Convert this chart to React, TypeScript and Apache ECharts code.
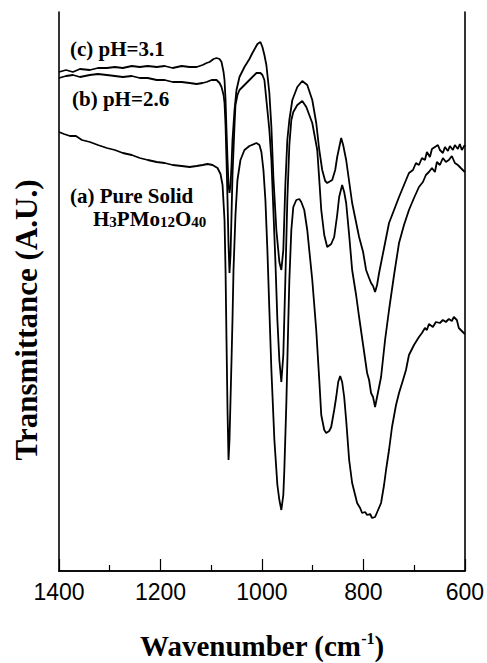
import React, { useEffect, useRef } from "react";
import * as echarts from "echarts";

// Wavenumber (cm-1) and transmittance (arbitrary units)
const curveC: [number, number][] = [
  [1400, 499], [1386.2, 501], [1372.5, 499], [1358.7, 502], [1339.1, 501], [1323.3, 503],
  [1305.7, 503], [1289.9, 504], [1274.2, 503], [1256.5, 505], [1240.8, 504], [1225.1, 505],
  [1207.4, 504], [1191.6, 505], [1175.9, 503], [1158.2, 505], [1142.5, 504], [1128.7, 504],
  [1116.9, 506], [1109.1, 508], [1103.2, 509], [1095.3, 512], [1089.4, 513], [1083.5, 512],
  [1079.6, 509], [1075.6, 499], [1073.7, 491], [1071.7, 471], [1069.8, 441], [1067.8, 411],
  [1065.8, 386], [1063.9, 378], [1061.9, 386], [1059.9, 406], [1058.0, 431], [1054.0, 461],
  [1050.1, 481], [1044.2, 494], [1034.4, 504], [1024.6, 512], [1018.7, 518], [1008.8, 527],
  [1002.9, 529], [999.0, 524], [995.1, 516], [991.2, 506], [985.3, 478], [981.3, 444],
  [977.4, 394], [971.5, 341], [965.6, 309], [961.7, 301], [957.8, 321], [953.8, 386],
  [949.9, 431], [945.9, 451], [940.0, 471], [930.2, 484], [920.4, 490], [910.6, 486],
  [900.7, 471], [892.9, 448], [886.9, 421], [881.1, 401], [875.2, 390], [871.3, 388],
  [861.4, 391], [855.5, 401], [851.6, 414], [843.7, 433], [839.8, 426], [833.9, 411],
  [822.1, 368], [808.4, 334], [800.5, 319], [794.6, 301], [788.7, 293], [784.8, 288],
  [780.9, 285], [776.9, 279], [773.0, 286], [769.0, 298], [759.2, 323], [749.4, 348],
  [739.5, 361], [729.7, 374], [719.9, 386], [710.1, 398], [702.2, 401], [696.3, 408],
  [690.4, 406], [684.5, 413], [678.6, 411], [674.7, 419], [668.8, 414], [664.8, 422],
  [658.9, 424], [653.0, 426], [649.1, 421], [643.2, 418], [639.2, 424], [633.3, 420],
  [629.4, 425], [623.5, 421], [619.6, 426], [613.7, 422], [609.8, 427], [605.9, 421],
  [600, 426],
];

const curveB: [number, number][] = [
  [1400, 493], [1386.2, 495], [1372.5, 496], [1358.7, 494], [1339.1, 496], [1323.3, 497],
  [1305.7, 496], [1289.9, 495], [1274.2, 494], [1256.5, 495], [1240.8, 493], [1225.1, 493],
  [1207.4, 491], [1191.6, 491], [1175.9, 489], [1158.2, 489], [1142.5, 488], [1128.7, 487],
  [1116.9, 488], [1109.1, 489], [1099.3, 491], [1089.4, 491], [1083.5, 488], [1079.6, 484],
  [1075.6, 476], [1073.7, 468], [1071.7, 446], [1069.8, 411], [1067.8, 371], [1065.8, 326],
  [1063.9, 298], [1061.9, 316], [1059.9, 356], [1058.0, 396], [1054.0, 446], [1052.1, 466],
  [1048.2, 476], [1044.2, 481], [1034.4, 486], [1024.6, 491], [1010.8, 498], [1002.9, 498],
  [999.0, 496], [995.1, 491], [989.2, 461], [985.3, 441], [981.3, 411], [977.4, 361],
  [973.5, 311], [969.5, 251], [965.6, 211], [961.7, 189], [957.8, 216], [953.8, 291],
  [949.9, 371], [945.9, 426], [942.0, 451], [938.1, 459], [930.2, 466], [920.4, 470],
  [912.5, 464], [900.7, 448], [890.9, 421], [886.9, 391], [883.0, 361], [877.1, 336],
  [871.3, 324], [863.4, 327], [857.5, 334], [851.6, 356], [847.7, 374], [841.8, 386],
  [837.8, 379], [833.9, 368], [828.0, 336], [822.1, 301], [814.3, 276], [808.4, 254],
  [800.5, 226], [792.6, 198], [788.7, 191], [784.8, 178], [780.9, 174], [776.9, 164],
  [771.0, 179], [765.1, 194], [757.2, 231], [749.4, 261], [739.5, 296], [729.7, 328],
  [719.9, 346], [710.1, 361], [700.2, 373], [690.4, 384], [682.6, 389], [676.7, 396],
  [670.8, 399], [664.8, 403], [658.9, 399], [655.0, 409], [649.1, 406], [643.2, 413],
  [637.3, 409], [631.5, 411], [625.6, 415], [619.6, 408], [613.7, 406], [607.9, 403],
  [600, 399],
];

const curveA: [number, number][] = [
  [1400, 439], [1390.2, 437], [1378.4, 435], [1366.6, 435], [1354.8, 431], [1339.1, 429],
  [1323.3, 426], [1305.7, 423], [1289.9, 421], [1274.2, 418], [1256.5, 416], [1240.8, 413],
  [1225.1, 411], [1207.4, 409], [1191.6, 408], [1175.9, 406], [1158.2, 405], [1142.5, 404],
  [1128.7, 405], [1116.9, 406], [1107.1, 407], [1097.3, 406], [1087.5, 403], [1081.6, 397],
  [1077.6, 386], [1073.7, 351], [1071.7, 301], [1069.8, 231], [1067.8, 161], [1065.8, 111],
  [1063.9, 131], [1061.9, 171], [1059.9, 211], [1058.0, 251], [1056.0, 301], [1052.1, 356],
  [1048.2, 391], [1042.3, 411], [1034.4, 421], [1024.6, 425], [1010.8, 428], [1004.9, 426],
  [1001.0, 419], [997.0, 401], [993.1, 371], [989.2, 321], [985.3, 261], [981.3, 201],
  [975.4, 131], [969.5, 86], [965.6, 71], [961.7, 61], [957.8, 76], [955.8, 101],
  [951.8, 168], [947.9, 251], [945.9, 291], [942.0, 341], [938.1, 364], [932.2, 371],
  [926.3, 372], [922.4, 369], [916.5, 361], [910.6, 341], [900.7, 291], [892.9, 241],
  [886.9, 191], [883.0, 156], [877.1, 141], [873.2, 138], [867.3, 140], [863.4, 144],
  [857.5, 161], [853.5, 174], [849.6, 189], [845.7, 195], [841.8, 189], [837.8, 174],
  [833.9, 151], [828.0, 111], [822.1, 88], [816.2, 76], [812.3, 68], [806.4, 63],
  [802.4, 58], [796.5, 59], [792.6, 56], [786.7, 57], [782.8, 53], [776.9, 54],
  [771.0, 61], [765.1, 68], [759.2, 86], [755.3, 101], [749.4, 121], [743.5, 144],
  [735.6, 166], [729.7, 178], [721.8, 191], [716.0, 201], [710.1, 216], [700.2, 226],
  [690.4, 234], [684.5, 238], [678.6, 243], [674.7, 241], [670.8, 247], [662.9, 244],
  [657.0, 249], [649.1, 248], [643.2, 251], [637.3, 249], [631.5, 252], [625.6, 250],
  [621.6, 254], [615.7, 251], [611.8, 243], [605.9, 240], [600, 237],
];

const xMin = 600;
const xMax = 1400;
const xInterval = 200;
const yMin = 0;
const yMax = 559;

const SERIF = '"Times New Roman", "Liberation Serif", serif';
const SANS = 'Arial, "Liberation Sans", sans-serif';

export default function App() {
  const ref = useRef<HTMLDivElement>(null);

  useEffect(() => {
    if (!ref.current) return;
    const chart = echarts.init(ref.current, undefined, { renderer: "svg" });
    const lineStyle = { color: "#000", width: 1.8 };
    const mkSeries = (name: string, data: [number, number][]) => ({
      name,
      type: "line",
      data,
      showSymbol: false,
      symbol: "none",
      smooth: false,
      lineStyle,
      itemStyle: { color: "#000" },
      silent: true,
    });
    const labelBold = { fontFamily: SERIF, fontWeight: "bold", fontSize: 21, fill: "#000" };
    chart.setOption({
      animation: false,
      backgroundColor: "#fff",
      grid: { left: 59, right: 21, top: 12, bottom: 92, containLabel: false },
      xAxis: [
        {
          type: "value",
          min: xMin,
          max: xMax,
          interval: xInterval,
          inverse: true,
          position: "bottom",
          axisLine: { show: true, lineStyle: { color: "#000", width: 1.6 } },
          axisTick: { show: true, inside: true, length: 12, lineStyle: { color: "#000", width: 1.2 } },
          minorTick: { show: true, splitNumber: 2, length: 6, lineStyle: { color: "#000", width: 1.2 } },
          axisLabel: {
            color: "#000",
            fontFamily: SANS,
            fontSize: 23,
            margin: 9,
            formatter: (v: number) => String(v),
          },
          splitLine: { show: false },
        },
        {
          type: "value",
          min: xMin,
          max: xMax,
          inverse: true,
          position: "top",
          axisLine: { show: true, lineStyle: { color: "#000", width: 1.6 } },
          axisTick: { show: false },
          axisLabel: { show: false },
          splitLine: { show: false },
        },
      ],
      yAxis: [
        {
          type: "value",
          min: yMin,
          max: yMax,
          position: "left",
          axisLine: { show: true, lineStyle: { color: "#000", width: 1.6 } },
          axisTick: { show: false },
          axisLabel: { show: false },
          splitLine: { show: false },
        },
        {
          type: "value",
          min: yMin,
          max: yMax,
          position: "right",
          axisLine: { show: true, lineStyle: { color: "#000", width: 1.6 } },
          axisTick: { show: false },
          axisLabel: { show: false },
          splitLine: { show: false },
        },
      ],
      series: [
        mkSeries("(a) Pure Solid H3PMo12O40", curveA),
        mkSeries("(b) pH=2.6", curveB),
        mkSeries("(c) pH=3.1", curveC),
      ],
      graphic: [
        {
          type: "text",
          left: 70,
          top: 38,
          style: { ...labelBold, text: "(c) pH=3.1" },
        },
        {
          type: "text",
          left: 72,
          top: 88,
          style: { ...labelBold, text: "(b) pH=2.6" },
        },
        {
          type: "text",
          left: 70,
          top: 185,
          style: { ...labelBold, text: "(a) Pure Solid" },
        },
        {
          type: "text",
          left: 93,
          top: 208,
          style: {
            text: "{n|H}{s|3}{n|PMo}{s|12}{n|O}{s|40}",
            fill: "#000",
            rich: {
              n: { fontFamily: SERIF, fontWeight: "bold", fontSize: 21, lineHeight: 24, verticalAlign: "bottom" },
              s: { fontFamily: SERIF, fontWeight: "bold", fontSize: 15, lineHeight: 9, verticalAlign: "bottom" },
            },
          },
        },
        {
          type: "text",
          x: 262,
          y: 646,
          style: {
            text: "{n|Wavenumber (cm}{s|-1}{n|)}",
            align: "center",
            verticalAlign: "middle",
            fill: "#000",
            rich: {
              n: { fontFamily: SERIF, fontWeight: "bold", fontSize: 29, lineHeight: 32, verticalAlign: "middle" },
              s: { fontFamily: SERIF, fontWeight: "bold", fontSize: 16, lineHeight: 16, verticalAlign: "top" },
            },
          },
        },
        {
          type: "text",
          x: 26,
          y: 320,
          rotation: Math.PI / 2,
          style: {
            text: "Transmittance (A.U.)",
            align: "center",
            verticalAlign: "middle",
            fontFamily: SERIF,
            fontWeight: "bold",
            fontSize: 31,
            fill: "#000",
          },
        },
      ],
    });
    return () => chart.dispose();
  }, []);

  return (
    <div
      ref={ref}
      style={{ position: "absolute", left: 0, top: 0, width: 487, height: 663, background: "#fff" }}
    />
  );
}
